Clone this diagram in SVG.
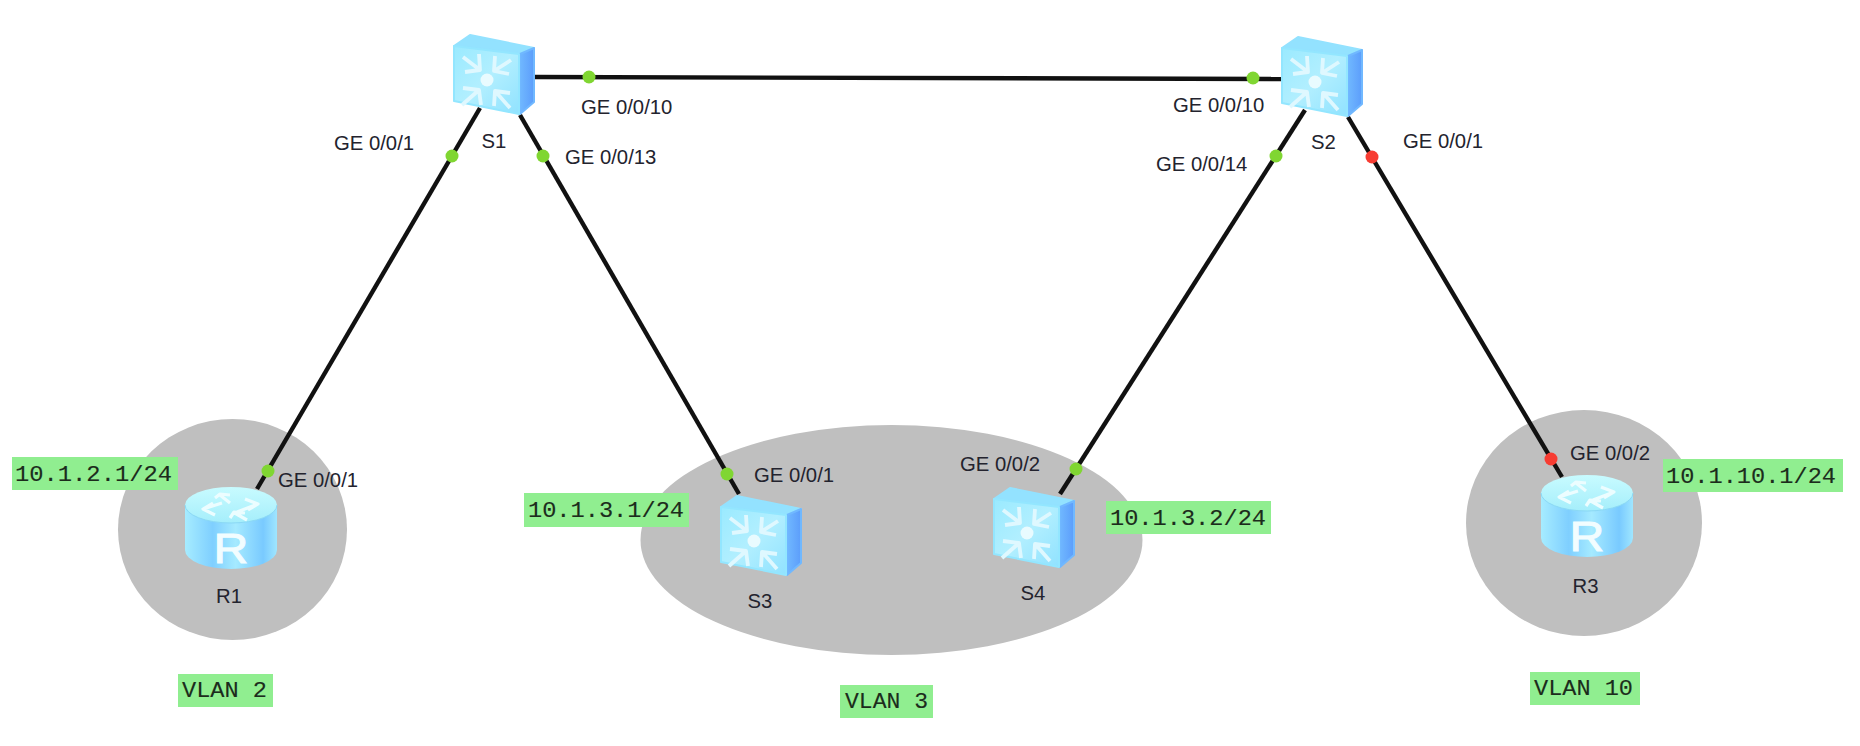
<svg xmlns="http://www.w3.org/2000/svg" xmlns:xlink="http://www.w3.org/1999/xlink" width="1860" height="746" viewBox="0 0 1860 746">
<style>
.zone{fill:#bfbfbf}
.link{stroke:#111;stroke-width:4.400;fill:none}
.dot{stroke:none}
.up{fill:#80d632}
.down{fill:#f73c32}
.lbl{font-family:"Liberation Sans",Arial,sans-serif;font-size:20.300px;fill:#23232e}
.tag{fill:#90ee90}
.mono{font-family:"Liberation Mono","DejaVu Sans Mono",monospace;font-size:22px;fill:#1c2c1c;stroke:#1c2c1c;stroke-width:.12}
.arw{fill:none;stroke:#dff8ff;stroke-width:3.800;stroke-linejoin:round}
.arr{fill:none;stroke:#ecfdff;stroke-width:3.200;stroke-linejoin:round}
.rtxt{font-family:"Liberation Sans",Arial,sans-serif;font-size:42px;fill:#f2fdff;stroke:#f2fdff;stroke-width:.9}
</style>
<defs>
<linearGradient id="face" x1="0" y1="0" x2="1" y2="1"><stop offset="0" stop-color="#9aeaff"/><stop offset=".5" stop-color="#b2efff"/><stop offset="1" stop-color="#90e2ff"/></linearGradient>
<linearGradient id="side" x1="0" y1="0" x2="1" y2="0"><stop offset="0" stop-color="#70b8ff"/><stop offset="1" stop-color="#5c9dfb"/></linearGradient>
<linearGradient id="body" x1="0" y1="0" x2="1" y2="0"><stop offset="0" stop-color="#a6ecff"/><stop offset=".3" stop-color="#7fcfff"/><stop offset=".55" stop-color="#a5eaff"/><stop offset=".85" stop-color="#79caff"/><stop offset="1" stop-color="#9fe6ff"/></linearGradient>
<linearGradient id="lid" x1="0" y1="0" x2="0" y2="1"><stop offset="0" stop-color="#c8fbff"/><stop offset="1" stop-color="#a5eefb"/></linearGradient>
<g id="switch">
<polygon points="1,1 17,-10 81,3 67,8" fill="#93e2ff" stroke="#93e2ff" stroke-width="2" stroke-linejoin="round"/>
<polygon points="67,9 81,3 81,57 67,69" fill="url(#side)" stroke="#70b8ff" stroke-width="2" stroke-linejoin="round"/>
<polygon points="1,1 66,9 66,69 1,56" fill="url(#face)" stroke="#93e6ff" stroke-width="2" stroke-linejoin="round"/>
<circle cx="34" cy="35" r="6.500" fill="#e9fbff"/>
<path class="arw" d="M10,12 L27,25 M12,27 L27,25 L26,9 M58,15 L41,26 M42,11 L41,26 L56,29 M9,60 L26,45 M10,43 L26,45 L28,60 M57,63 L42,46 M41,61 L42,46 L57,48"/>
</g>
<g id="router">
<path d="M0,18 L0,63 A46,19 0 0 0 92,63 L92,18 Z" fill="url(#body)"/>
<ellipse cx="46" cy="18" rx="46" ry="18" fill="url(#lid)"/>
<path d="M0,18 A46,18 0 0 0 92,18" fill="none" stroke="#8ad8f5" stroke-width="1"/>
<path class="arr" d="M37,16 L18,22 M28,16 L18,22 L30,28 M45,16 L35,8 M30,11 L35,7 L45,8 M52,25 L73,17 M60,12 L73,17 L63,23 M48,25 L62,33 M45,31 L49,25 L60,26"/>
<text class="rtxt" transform="translate(46,76) scale(1.150,1)" text-anchor="middle">R</text>
</g>
</defs>

<rect width="1860" height="746" fill="#fff"/>

<g id="zones">
<ellipse id="zone-vlan2" class="zone" cx="232.500" cy="529.500" rx="114.500" ry="110.500"/>
<ellipse id="zone-vlan3" class="zone" cx="891.500" cy="540" rx="251" ry="115"/>
<ellipse id="zone-vlan10" class="zone" cx="1584" cy="523" rx="118" ry="113"/>
</g>

<g id="connectors">
<line class="link" x1="535" y1="77" x2="1281" y2="79"/>
<line class="link" x1="480" y1="108" x2="257" y2="489"/>
<line class="link" x1="520" y1="115" x2="739" y2="494"/>
<line class="link" x1="1305" y1="110" x2="1060" y2="494"/>
<line class="link" x1="1348" y1="117" x2="1562" y2="477"/>
<circle class="dot up" cx="589" cy="77" r="6.500"/>
<circle class="dot up" cx="1253" cy="78" r="6.500"/>
<circle class="dot up" cx="452" cy="156" r="6.500"/>
<circle class="dot up" cx="268" cy="471" r="6.500"/>
<circle class="dot up" cx="543" cy="156" r="6.500"/>
<circle class="dot up" cx="727" cy="474" r="6.500"/>
<circle class="dot up" cx="1276" cy="156" r="6.500"/>
<circle class="dot up" cx="1076" cy="469" r="6.500"/>
<circle class="dot down" cx="1372" cy="157" r="6.500"/>
<circle class="dot down" cx="1551" cy="459" r="6.500"/>
</g>

<g id="node-S1"><use xlink:href="#switch" href="#switch" x="453" y="45"/><text class="lbl" x="494" y="148" text-anchor="middle">S1</text></g>
<g id="node-S2"><use xlink:href="#switch" href="#switch" x="1281" y="47"/><text class="lbl" x="1323.500" y="149" text-anchor="middle">S2</text></g>
<g id="node-S3"><use xlink:href="#switch" href="#switch" x="720" y="506"/><text class="lbl" x="760" y="608" text-anchor="middle">S3</text></g>
<g id="node-S4"><use xlink:href="#switch" href="#switch" x="993" y="498"/><text class="lbl" x="1033" y="600" text-anchor="middle">S4</text></g>
<g id="node-R1"><use xlink:href="#router" href="#router" x="185" y="487"/><text class="lbl" x="229" y="603" text-anchor="middle">R1</text></g>
<g id="node-R3"><use xlink:href="#router" href="#router" x="1541" y="475"/><text class="lbl" x="1585.500" y="593" text-anchor="middle">R3</text></g>

<g id="ports">
<text class="lbl" x="581" y="114">GE 0/0/10</text>
<text class="lbl" x="565" y="164">GE 0/0/13</text>
<text class="lbl" x="334" y="150">GE 0/0/1</text>
<text class="lbl" x="278" y="487">GE 0/0/1</text>
<text class="lbl" x="754" y="482">GE 0/0/1</text>
<text class="lbl" x="960" y="471">GE 0/0/2</text>
<text class="lbl" x="1173" y="112">GE 0/0/10</text>
<text class="lbl" x="1156" y="171">GE 0/0/14</text>
<text class="lbl" x="1403" y="148">GE 0/0/1</text>
<text class="lbl" x="1570" y="460">GE 0/0/2</text>
</g>

<g id="tags">
<rect class="tag" x="12" y="457" width="166" height="33"/>
<text class="mono" x="15" y="481" textLength="157" lengthAdjust="spacingAndGlyphs">10.1.2.1/24</text>
<rect class="tag" x="524" y="493" width="165" height="34"/>
<text class="mono" x="528" y="517" textLength="156" lengthAdjust="spacingAndGlyphs">10.1.3.1/24</text>
<rect class="tag" x="1106" y="501" width="165" height="33"/>
<text class="mono" x="1110" y="525" textLength="156" lengthAdjust="spacingAndGlyphs">10.1.3.2/24</text>
<rect class="tag" x="1663" y="459" width="180" height="33"/>
<text class="mono" x="1666" y="483" textLength="170" lengthAdjust="spacingAndGlyphs">10.1.10.1/24</text>
<rect class="tag" x="178" y="674" width="95" height="33"/>
<text class="mono" x="182" y="697" textLength="85" lengthAdjust="spacingAndGlyphs">VLAN 2</text>
<rect class="tag" x="840" y="685" width="93" height="33"/>
<text class="mono" x="845" y="708" textLength="83" lengthAdjust="spacingAndGlyphs">VLAN 3</text>
<rect class="tag" x="1530" y="672" width="110" height="33"/>
<text class="mono" x="1534" y="695" textLength="99" lengthAdjust="spacingAndGlyphs">VLAN 10</text>
</g>
</svg>
